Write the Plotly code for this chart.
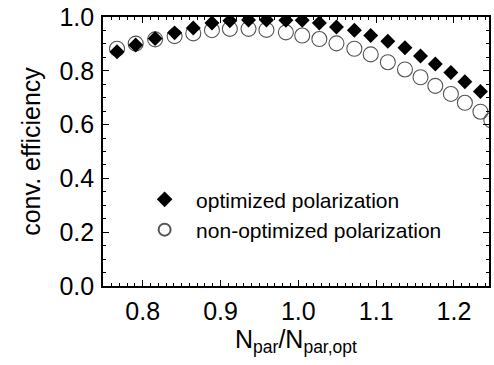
import plotly.graph_objects as go

# x positions (N_par / N_par,opt)
x_opt = [0.767, 0.791, 0.816, 0.841, 0.865, 0.889, 0.912, 0.936, 0.959, 0.984, 1.005,
         1.027, 1.049, 1.072, 1.093, 1.115, 1.137, 1.157, 1.176, 1.196, 1.214, 1.234]
y_opt = [0.871, 0.896, 0.920, 0.941, 0.959, 0.978, 0.986, 0.989, 0.989, 0.988, 0.988,
         0.978, 0.963, 0.951, 0.931, 0.910, 0.886, 0.855, 0.825, 0.794, 0.759, 0.723]

x_non = [0.767, 0.791, 0.816, 0.841, 0.865, 0.889, 0.912, 0.936, 0.959, 0.984, 1.005,
         1.027, 1.049, 1.072, 1.093, 1.115, 1.137, 1.157, 1.176, 1.196, 1.214, 1.234, 1.248]
y_non = [0.882, 0.901, 0.917, 0.929, 0.939, 0.951, 0.956, 0.956, 0.952, 0.943, 0.931,
         0.918, 0.902, 0.882, 0.861, 0.832, 0.805, 0.776, 0.744, 0.714, 0.681, 0.648, 0.616]

x_ticks = [0.8, 0.9, 1.0, 1.1, 1.2]
x_ticklabels = ["0.8", "0.9", "1.0", "1.1", "1.2"]
y_ticks = [0.0, 0.2, 0.4, 0.6, 0.8, 1.0]
y_ticklabels = ["0.0", "0.2", "0.4", "0.6", "0.8", "1.0"]

FONT = "Liberation Sans, Arial, sans-serif"

fig = go.Figure()
fig.add_trace(go.Scatter(
    x=x_non, y=y_non, mode="markers", name="non-optimized polarization",
    marker=dict(symbol="circle-open", size=15, color="#555555", line=dict(width=1.1, color="#555555")),
    legendrank=2,
))
fig.add_trace(go.Scatter(
    x=x_opt, y=y_opt, mode="markers", name="optimized polarization",
    marker=dict(symbol="diamond", size=11.5, color="black", line=dict(width=0)),
    legendrank=1,
))

axis_common = dict(
    showline=True, linecolor="black", linewidth=1.6, mirror="allticks",
    ticks="inside", ticklen=6, tickwidth=1.3, tickcolor="black",
    showgrid=False, zeroline=False, ticklabeloverflow="allow",
    tickfont=dict(family=FONT, size=25, color="black"),
)

fig.update_xaxes(
    range=[0.749, 1.245], tickvals=x_ticks, ticktext=x_ticklabels,
    ticklabelstandoff=2,
    minor=dict(dtick=0.01, ticks="inside", ticklen=3, tickwidth=1, tickcolor="black", showgrid=False),
    title=dict(text="N<sub>par</sub>/N<sub>par,opt</sub>", font=dict(family=FONT, size=25, color="black"), standoff=6),
    **axis_common,
)
fig.update_yaxes(
    range=[0.0, 1.0], tickvals=y_ticks, ticktext=y_ticklabels,
    ticklabelstandoff=2,
    minor=dict(dtick=0.05, ticks="inside", ticklen=3, tickwidth=1, tickcolor="black", showgrid=False),
    title=dict(text="conv. efficiency", font=dict(family=FONT, size=25, color="black"), standoff=12),
    **axis_common,
)

fig.update_layout(
    width=494, height=365,
    margin=dict(l=103, r=3, t=11, b=79),
    plot_bgcolor="white", paper_bgcolor="white",
    showlegend=True,
    legend=dict(
        x=0.078, y=0.397, xanchor="left", yanchor="top",
        bgcolor="rgba(0,0,0,0)", borderwidth=0,
        font=dict(family=FONT, size=21, color="black"),
        itemsizing="constant", itemwidth=53,
    ),
)

fig.write_html("out.html", config={"displayModeBar": False},
               post_script="document.body.style.margin='0px';")
